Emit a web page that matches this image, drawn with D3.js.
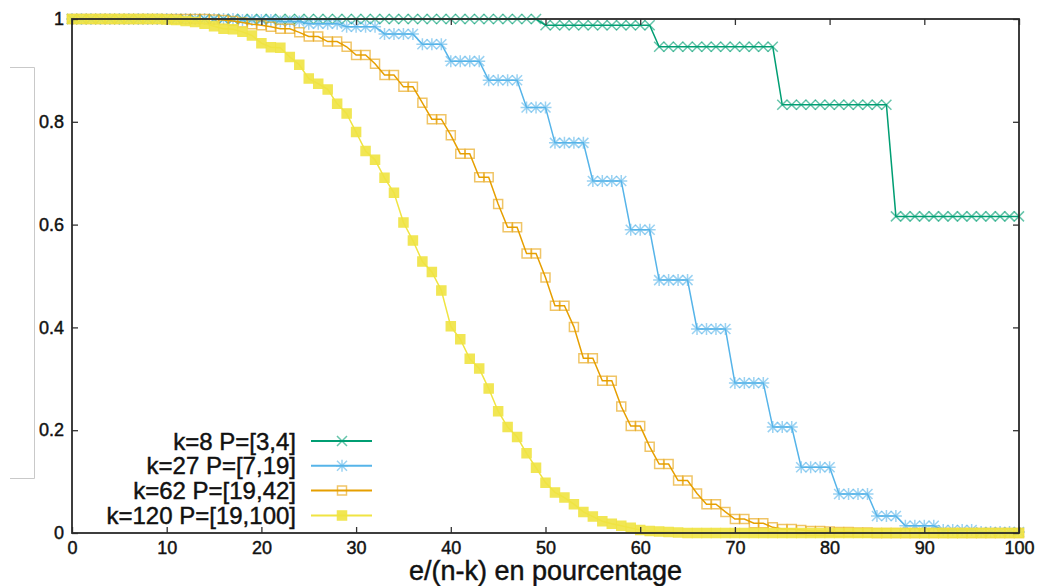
<!DOCTYPE html>
<html>
<head>
<meta charset="utf-8">
<script src="https://cdn.jsdelivr.net/npm/d3@7"></script>
<style>
  body { margin: 0; background: #fff; }
  text { font-family: "Liberation Sans", Arial, sans-serif; fill: #111; stroke: #111; stroke-width: 0.45px; }
</style>
</head>
<body>
<div id="container"></div>
<script>

/* DATA */
// x = e/(n-k) in percent, one sample per percent
const xPct = d3.range(0, 101);

const k8Vals = [
  1,1,1,1,1,1,1,1,1,1, 1,1,1,1,1,1,1,1,1,1,
  1,1,1,1,1,1,1,1,1,1, 1,1,1,1,1,1,1,1,1,1,
  1,1,1,1,1,1,1,1,1,1,
  0.988,0.988,0.988,0.988,0.988,0.988,0.988,0.988,0.988,0.988,0.988,0.988,
  0.946,0.946,0.946,0.946,0.946,0.946,0.946,0.946,0.946,0.946,0.946,0.946,0.946,
  0.833,0.833,0.833,0.833,0.833,0.833,0.833,0.833,0.833,0.833,0.833,0.833,
  0.616,0.616,0.616,0.616,0.616,0.616,0.616,0.616,0.616,0.616,0.616,0.616,0.616,0.616
];

const k27Vals = [
  1,1,1,1,1,1,1,1,1,1, 1,1,1,1,1,1,1,1,
  0.998,0.998,0.998,0.998,
  0.995,0.995,0.995,
  0.991,0.991,0.991,0.991,
  0.985,0.985,0.985,0.985,
  0.971,0.971,0.971,0.971,
  0.951,0.951,0.951,
  0.918,0.918,0.918,0.918,
  0.881,0.881,0.881,0.881,
  0.828,0.828,0.828,
  0.759,0.759,0.759,0.759,
  0.685,0.685,0.685,0.685,
  0.590,0.590,0.590,
  0.492,0.492,0.492,0.492,
  0.397,0.397,0.397,0.397,
  0.292,0.292,0.292,0.292,
  0.206,0.206,0.206,
  0.128,0.128,0.128,0.128,
  0.076,0.076,0.076,0.076,
  0.033,0.033,0.033,
  0.014,0.014,0.014,0.014,
  0.006,0.006,0.006,0.006,
  0.002,0.002,0.002,0.002,0.002
];

const k62Vals = [
  1,1,1,1,1,1,1,1,1,1, 1,1,1,1,1,
  0.999,0.998,0.996,0.993,0.990,0.988,0.985,0.981,0.981,0.974,
  0.966,0.966,0.956,0.956,0.946,0.930,0.930,0.913,0.891,0.891,
  0.868,0.868,0.837,0.805,0.805,0.774,0.738,0.738,0.692,0.692,
  0.640,0.595,0.595,0.544,0.544,0.497,0.442,0.442,0.401,0.340,
  0.340,0.296,0.296,0.246,0.208,0.208,0.168,0.134,0.134,0.102,
  0.102,0.077,0.056,0.056,0.041,0.027,0.027,0.019,0.019,0.011,
  0.008,0.008,0.006,0.004,0.004,0.003,0.002,0.002,0.001,0.001,
  0,0,0,0,0,0,0,0,0,0, 0,0,0,0,0,0
];

const k120Vals = [
  1,1,1,1,1,1,1,1,1,1,
  0.999,0.998,0.996,0.994,0.991,0.986,0.981,0.980,0.975,0.968,
  0.953,0.945,0.944,0.926,0.911,0.884,0.874,0.863,0.835,0.816,
  0.780,0.743,0.726,0.691,0.662,0.604,0.569,0.528,0.508,0.472,
  0.402,0.377,0.339,0.320,0.281,0.237,0.206,0.187,0.155,0.127,
  0.098,0.079,0.069,0.056,0.041,0.032,0.023,0.018,0.014,0.010,
  0.006,0.004,0.003,0.002,0.001,
  0,0,0,0,0,0,0,0,0,0, 0,0,0,0,0,0,0,0,0,0,
  0,0,0,0,0,0,0,0,0,0, 0,0,0,0,0,0
];

const seriesNames = ["k=8 P=[3,4]", "k=27 P=[7,19]", "k=62 P=[19,42]", "k=120 P=[19,100]"];
const seriesValues = [k8Vals, k27Vals, k62Vals, k120Vals];
const seriesColors = ["#009e73", "#56b4e9", "#e69f00", "#f0e442"];
const seriesSymbols = ["cross", "star", "square", "filledSquare"];

const xTicks = [0, 10, 20, 30, 40, 50, 60, 70, 80, 90, 100];
const yTicks = [0, 0.2, 0.4, 0.6, 0.8, 1];
const xTitle = "e/(n-k) en pourcentage";

/* CONSTANTS */
const W = 1041, H = 586;
const margin = {top: 19, right: 22, bottom: 53, left: 72};
const plotW = W - margin.left - margin.right,
      plotH = H - margin.top - margin.bottom;

const symbolPaths = {
  cross: "M-5,-5L5,5M-5,5L5,-5",
  star: "M-5,-5L5,5M-5,5L5,-5M-6,0H6M0,-6V6",
  square: "M-4.5,-4.5H4.5V4.5H-4.5Z",
  filledSquare: "M-4.5,-4.5H4.5V4.5H-4.5Z"
};

// CREATE SVG ELEMENT
const svg = d3.select("#container")
  .append("svg")
  .attr("width", W)
  .attr("height", H)
  .style("display", "block");

// the light grey bracket on the left of the original picture
svg.append("path")
  .attr("d", "M10,67.5H34.5V478.5H10")
  .attr("fill", "none")
  .attr("stroke", "#c9c9c9")
  .attr("stroke-width", 1);

const g = svg.append("g")
  .attr("transform", `translate(${margin.left},${margin.top})`);

// SCALES
const xScale = d3.scaleLinear().domain([0, 100]).range([0, plotW]);
const yScale = d3.scaleLinear().domain([0, 1]).range([plotH, 0]);

// SERIES
const line = d3.line()
  .x((d, i) => xScale(xPct[i]))
  .y(d => yScale(d));

seriesValues.forEach((vals, s) => {
  const col = seriesColors[s];
  const sym = seriesSymbols[s];

  g.append("path")
    .datum(vals)
    .attr("fill", "none")
    .attr("stroke", col)
    .attr("stroke-width", 1.5)
    .attr("d", line);

  g.append("g")
    .selectAll("path")
    .data(vals)
    .join("path")
    .attr("transform", (d, i) => `translate(${xScale(xPct[i])},${yScale(d)})`)
    .attr("d", symbolPaths[sym])
    .attr("fill", sym === "filledSquare" ? col : "none")
    .attr("stroke", col)
    .attr("stroke-width", 1.5)
    .attr("opacity", sym === "filledSquare" ? 0.9 : 0.6);
});

// AXES (ticks inside, mirrored on top and right)
g.append("g")
  .attr("transform", `translate(0,${plotH})`)
  .call(d3.axisBottom(xScale).tickValues(xTicks).tickSizeInner(-6).tickSizeOuter(0).tickPadding(8).tickFormat(d3.format("d")))
  .call(a => a.select(".domain").remove())
  .call(a => a.selectAll("text").style("font-size", "18px").attr("fill", "#111"));

g.append("g")
  .call(d3.axisTop(xScale).tickValues(xTicks).tickSizeInner(-6).tickSizeOuter(0).tickFormat(""))
  .call(a => a.select(".domain").remove());

g.append("g")
  .call(d3.axisLeft(yScale).tickValues(yTicks).tickSizeInner(-6).tickSizeOuter(0).tickPadding(8).tickFormat(d3.format("")))
  .call(a => a.select(".domain").remove())
  .call(a => a.selectAll("text").style("font-size", "18px").attr("fill", "#111"));

g.append("g")
  .attr("transform", `translate(${plotW},0)`)
  .call(d3.axisRight(yScale).tickValues(yTicks).tickSizeInner(-6).tickSizeOuter(0).tickFormat(""))
  .call(a => a.select(".domain").remove());

g.selectAll(".tick line").attr("stroke", "#333").attr("stroke-width", 1.3);

// FRAME
g.append("rect")
  .attr("width", plotW)
  .attr("height", plotH)
  .attr("fill", "none")
  .attr("stroke", "#2a2a2a")
  .attr("stroke-width", 1.8);

// X TITLE
svg.append("text")
  .attr("x", margin.left + plotW / 2)
  .attr("y", 580)
  .attr("text-anchor", "middle")
  .style("font-size", "27px")
  .text(xTitle);

// LEGEND
const legend = g.append("g").attr("transform", `translate(0,${441 - margin.top})`);
seriesNames.forEach((name, s) => {
  const row = legend.append("g").attr("transform", `translate(0,${s * 24.8})`);
  row.append("text")
    .attr("x", 224)
    .attr("y", 8.5)
    .attr("text-anchor", "end")
    .style("font-size", "24px")
    .text(name);
  row.append("line")
    .attr("x1", 239).attr("x2", 300)
    .attr("stroke", seriesColors[s])
    .attr("stroke-width", 2);
  row.append("path")
    .attr("transform", "translate(270,0)")
    .attr("d", symbolPaths[seriesSymbols[s]])
    .attr("fill", seriesSymbols[s] === "filledSquare" ? seriesColors[s] : "none")
    .attr("stroke", seriesColors[s])
    .attr("stroke-width", 1.5)
    .attr("opacity", seriesSymbols[s] === "filledSquare" ? 0.9 : 0.6);
});

</script>
</body>
</html>
